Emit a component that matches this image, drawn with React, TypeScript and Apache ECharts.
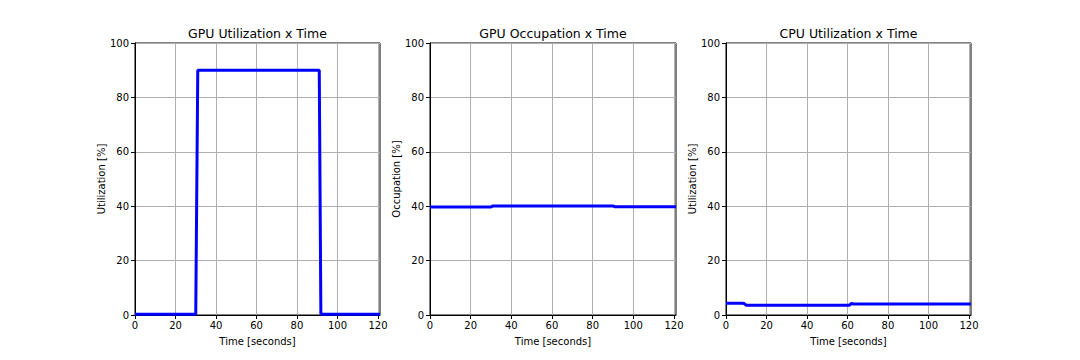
import React, { useEffect, useRef } from "react";
import * as echarts from "echarts";

const titles = ["GPU Utilization x Time", "GPU Occupation x Time", "CPU Utilization x Time"];
const yNames = ["Utilization [%]", "Occupation [%]", "Utilization [%]"];
const xTicks = [0, 20, 40, 60, 80, 100, 120];
const yTicks = [0, 20, 40, 60, 80, 100];

// [time (s), value (%)]
const gpuUtil: [number, number][] = [
  [0, 0.3], [30, 0.3], [31, 90], [91, 90], [91.8, 0.3], [121, 0.3],
];
const gpuOcc: [number, number][] = [
  [0, 39.7], [30, 39.7], [31, 40.1], [90, 40.1], [91, 39.8], [121, 39.8],
];
const cpuUtil: [number, number][] = [
  [0, 4.3], [8, 4.3], [9, 4.2], [10, 3.6], [61, 3.6], [62, 4.3], [63, 4.0], [121, 4.0],
];
const seriesData = [gpuUtil, gpuOcc, cpuUtil];

const grids = [
  { left: 135, width: 245 },
  { left: 430, width: 246 },
  { left: 726, width: 245 },
];

const FONT = "DejaVu Sans";

export default function App() {
  const ref = useRef<HTMLDivElement>(null);
  useEffect(() => {
    if (!ref.current) return;
    const chart = echarts.init(ref.current, undefined, { renderer: "svg" });
    chart.setOption({
      animation: false,
      backgroundColor: "#ffffff",
      textStyle: { fontFamily: FONT },
      title: titles.map((t, i) => ({
        text: t,
        left: grids[i].left + grids[i].width / 2,
        top: 27,
        padding: 0,
        textAlign: "center",
        textStyle: { fontFamily: FONT, fontSize: 12.5, fontWeight: "normal", color: "#000" },
      })),
      grid: grids.map((g) => ({
        left: g.left,
        width: g.width,
        top: 43,
        height: 272,
        show: true,
        borderColor: "#000",
        borderWidth: 1,
        backgroundColor: "transparent",
      })),
      xAxis: grids.map((_, i) => ({
        type: "value",
        gridIndex: i,
        min: 0,
        max: 121,
        interval: 20,
        name: "Time [seconds]",
        nameLocation: "middle",
        nameGap: 21,
        nameTextStyle: { fontFamily: FONT, fontSize: 10, color: "#000" },
        axisLine: { show: true, lineStyle: { color: "#000", width: 1 } },
        axisTick: { show: true, length: 4, lineStyle: { color: "#000" }, customValues: xTicks },
        axisLabel: { fontFamily: FONT, fontSize: 10, color: "#000", margin: 5, customValues: xTicks },
        splitLine: { show: true, lineStyle: { color: "#b0b0b0", width: 1 } },
      })),
      yAxis: grids.map((_, i) => ({
        type: "value",
        gridIndex: i,
        min: 0,
        max: 100,
        interval: 20,
        name: yNames[i],
        nameLocation: "middle",
        nameGap: 28,
        nameTextStyle: { fontFamily: FONT, fontSize: 10, color: "#000" },
        axisLine: { show: true, lineStyle: { color: "#000", width: 1 } },
        axisTick: { show: true, length: 4, lineStyle: { color: "#000" }, customValues: yTicks },
        axisLabel: { fontFamily: FONT, fontSize: 10, color: "#000", margin: 6, customValues: yTicks },
        splitLine: { show: true, lineStyle: { color: "#b0b0b0", width: 1 } },
      })),
      series: seriesData.map((d, i) => ({
        type: "line",
        xAxisIndex: i,
        yAxisIndex: i,
        data: d,
        showSymbol: false,
        symbol: "none",
        lineStyle: { color: "#0000ff", width: 3 },
      })),
    });
    return () => chart.dispose();
  }, []);
  return <div ref={ref} style={{ width: 1080, height: 360, margin: -8 }} />;
}
